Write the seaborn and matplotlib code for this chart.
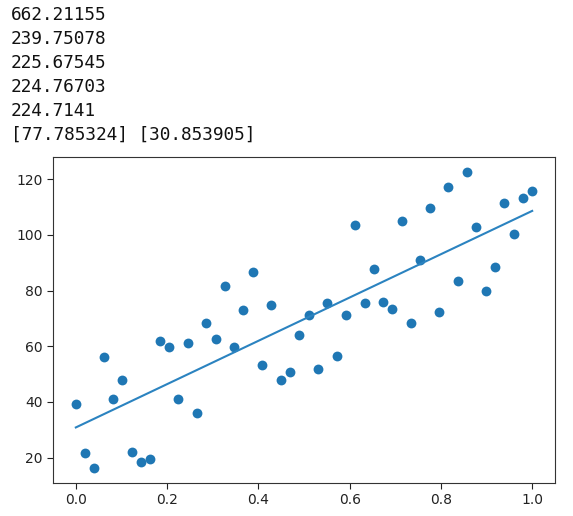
import numpy as np
import pandas as pd
import seaborn as sns
import matplotlib.pyplot as plt

# === Printed notebook output above the chart ===
printed_lines = [
    "662.21155",
    "239.75078",
    "225.67545",
    "224.76703",
    "224.7141",
    "[77.785324] [30.853905]",
]

# === Fitted line coefficients (slope, intercept) ===
slope = 77.785324
intercept = 30.853905

# === Scatter data ===
x_vals = [0.0, 0.0204, 0.0408, 0.0612, 0.0816, 0.102, 0.1224, 0.1429, 0.1633, 0.1837,
          0.2041, 0.2245, 0.2449, 0.2653, 0.2857, 0.3061, 0.3265, 0.3469, 0.3673, 0.3878,
          0.4082, 0.4286, 0.449, 0.4694, 0.4898, 0.5102, 0.5306, 0.551, 0.5714, 0.5918,
          0.6122, 0.6327, 0.6531, 0.6735, 0.6939, 0.7143, 0.7347, 0.7551, 0.7755, 0.7959,
          0.8163, 0.8367, 0.8571, 0.8776, 0.898, 0.9184, 0.9388, 0.9592, 0.9796, 1.0]
y_vals = [39.2, 21.6, 16.2, 56.0, 40.9, 48.0, 22.2, 18.4, 19.4, 61.8,
          59.7, 40.9, 61.3, 36.1, 68.4, 62.5, 81.8, 59.9, 73.2, 86.7,
          53.3, 74.7, 48.0, 50.7, 64.1, 71.3, 51.9, 75.4, 56.6, 71.3,
          103.4, 75.4, 87.9, 75.9, 73.3, 105.1, 68.5, 91.1, 109.8, 72.2,
          117.4, 83.4, 122.7, 102.8, 79.7, 88.5, 111.5, 100.2, 113.1, 115.8]

df = pd.DataFrame({"x": x_vals, "y": y_vals})
df["pred"] = slope * df["x"] + intercept

W, H = 573, 516
fig = plt.figure(figsize=(W / 100, H / 100), dpi=100)

# text block, baselines in pixels from top
baselines = [20, 44.3, 68.3, 92.3, 116.5, 140]
for txt, b in zip(printed_lines, baselines):
    fig.text(11 / W, 1 - b / H, txt, family="DejaVu Sans Mono", fontsize=12.8,
             va="baseline", ha="left", color="#111111")

ax = fig.add_axes([53 / W, 1 - 483 / H, (555 - 53) / W, (483 - 157) / H])
sns.scatterplot(data=df, x="x", y="y", ax=ax, color="#1f77b4", s=50, linewidth=0)
sns.lineplot(data=df, x="x", y="pred", ax=ax, color="#2b83c0", linewidth=1.5)

ax.set_xlim(-0.05, 1.05)
ax.set_ylim(10.9, 128.0)
ax.set_xticks([0.0, 0.2, 0.4, 0.6, 0.8, 1.0])
ax.set_yticks([20, 40, 60, 80, 100, 120])
ax.set_xlabel("")
ax.set_ylabel("")
ax.tick_params(labelsize=10, colors="#222222", length=4)
for sp in ax.spines.values():
    sp.set_color("#333333")

fig.savefig("out.png", dpi=100)
